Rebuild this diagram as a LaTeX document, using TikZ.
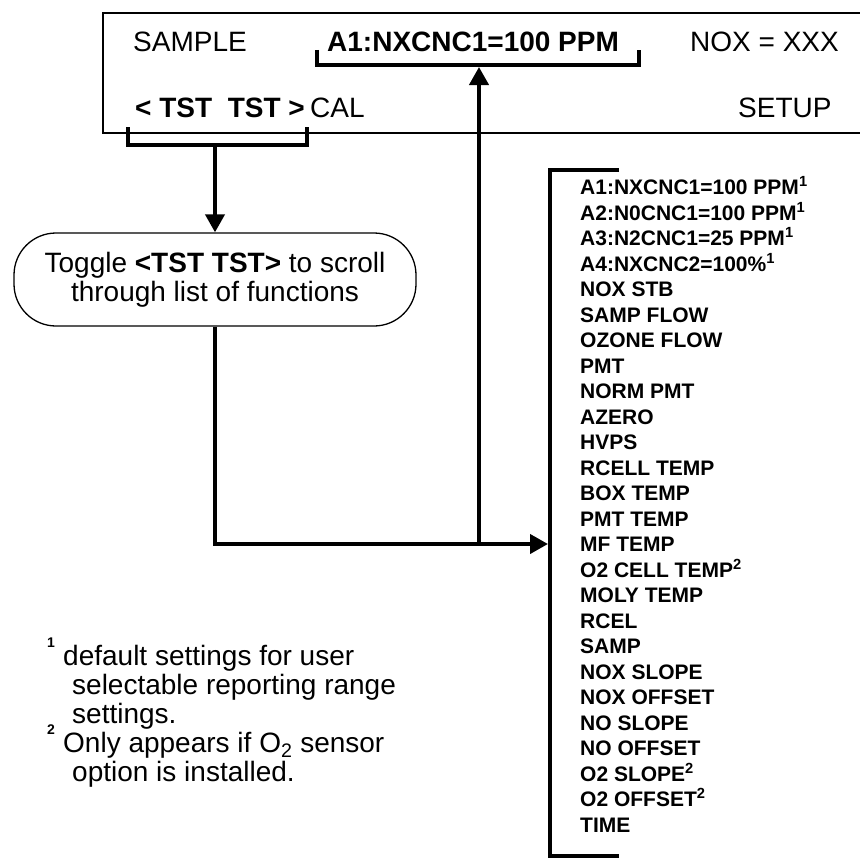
\documentclass[tikz,border=0pt]{standalone}
\usepackage{fontspec}
\setmainfont{Liberation Sans}
\usetikzlibrary{arrows.meta,positioning}

\begin{document}
\begin{tikzpicture}
	[x=1pt,y=-1pt,
	every node/.style={inner sep=0pt,font=\fontsize{28}{29}\selectfont},
	lbl/.style={anchor=west,text height=20pt,text depth=0pt},
	item/.style={anchor=west,text height=15pt,text depth=0pt,font=\fontsize{21}{25}\selectfont\bfseries},
	fnmark/.style={anchor=west,font=\fontsize{14}{14}\selectfont\bfseries},
	brk/.style={line width=4pt},
	arr/.style={line width=4pt,-{Triangle[length=18pt,width=19pt]}},
	callout/.style={draw,line width=1.3pt,rounded corners=42pt,align=center,minimum width=402pt,minimum height=93pt}]
	\useasboundingbox (0,0) rectangle (859,867);
	
	% display panel
	\draw[line width=1.5pt] (870,13) -- (103,13) -- (103,133) -- (870,133);
	\node[lbl] (sample) at (133,42) {SAMPLE};
	\node[lbl] (conc) at (327,42) {\bfseries A1:NXCNC1=100 PPM};
	\node[lbl] (nox) at (690,42) {NOX = XXX};
	\node[lbl] (tst) at (135,107) {\bfseries <~TST~~TST~>};
	\node[lbl] (cal) at (310,107) {CAL};
	\node[lbl] (setup) at (738,107) {SETUP};
	
	% brackets
	\draw[brk] (317,50) -- (317,65) -- (639,65) -- (639,50);
	\draw[brk] (128,127) -- (128,145) -- (307,145) -- (307,127);
	\coordinate (a1brk) at (479,67);
	\coordinate (tstbrk) at (215,145);
	
	\node[callout] (toggle) at (215,279.5) {Toggle {\bfseries <TST TST>} to scroll\\through list of functions};
	
	% list of test functions
	\draw[brk] (619,170) -- (550,170) -- (550,856) -- (619,856);
	\coordinate (bar) at (548,170);
	\foreach \t [count=\i] in {A1:NXCNC1=100 PPM\textsuperscript{1},A2:N0CNC1=100 PPM\textsuperscript{1},A3:N2CNC1=25 PPM\textsuperscript{1},A4:NXCNC2=100\%\textsuperscript{1},NOX STB,SAMP FLOW,OZONE FLOW,PMT,NORM PMT,AZERO,HVPS,RCELL TEMP,BOX TEMP,PMT TEMP,MF TEMP,O2 CELL TEMP\textsuperscript{2},MOLY TEMP,RCEL,SAMP,NOX SLOPE,NOX OFFSET,NO SLOPE,NO OFFSET,O2 SLOPE\textsuperscript{2},O2 OFFSET\textsuperscript{2},TIME}
		\node[item] (f\i) at (580,{187+(\i-1)*25.5}) {\t};
	
	\draw[arr] (tstbrk) -- (toggle.north);
	\draw[arr] (toggle.south) -- (toggle.south |- f15.west) -- (bar |- f15.west);
	\draw[arr] (a1brk |- f15.west) -- (a1brk);
	
	% footnotes
	\node[fnmark] (m1) at (47,643) {1};
	\node[fnmark] (m2) at (47,730) {2};
	\foreach \x/\y/\t [count=\i] in {63/655/default settings for user,72/684/selectable reporting range,72/713/settings.,63/742/Only appears if O\textsubscript{2} sensor,72/771/option is installed.}
		\node[lbl] (fn\i) at (\x,\y) {\t};
\end{tikzpicture}
\end{document}
